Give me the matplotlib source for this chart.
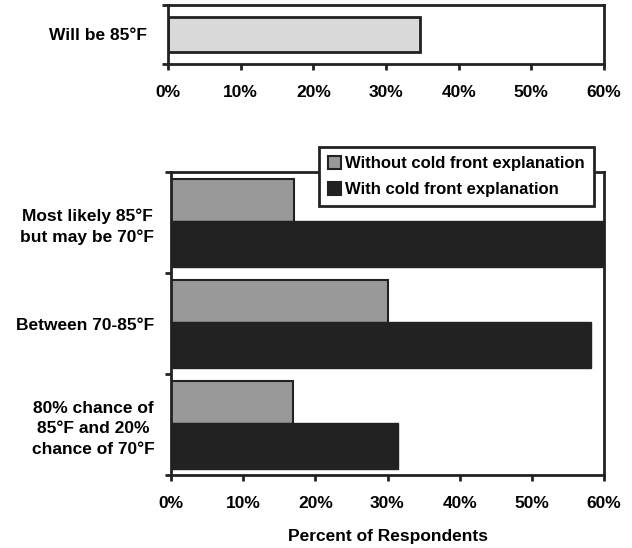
import numpy as np
import matplotlib
matplotlib.use("Agg")
import matplotlib.pyplot as plt
from matplotlib.patches import Patch

plt.rcParams["font.family"] = ["Liberation Sans", "DejaVu Sans"]
plt.rcParams["font.weight"] = "bold"
plt.rcParams["font.size"] = 12.5

# Data (percent of respondents)
top_label = "Will be 85°F"
top_value = 34.7

categories = [
    "Most likely 85°F\nbut may be 70°F",
    "Between 70-85°F",
    "80% chance of\n85°F and 20%\nchance of 70°F",
]
without_explanation = [17.0, 30.1, 16.9]
with_explanation = [60.0, 58.2, 31.5]

series_names = ["Without cold front explanation", "With cold front explanation"]
ticks_pct = [0, 10, 20, 30, 40, 50, 60]

c_light = "#d9d9d9"
c_gray = "#999999"
c_dark = "#222222"
spine_lw = 2.0

fig = plt.figure(figsize=(6.32, 5.48), dpi=100)
ax_top = fig.add_axes([168 / 632, 1 - 64 / 548, (604 - 168) / 632, (64 - 5) / 548])
ax = fig.add_axes([171 / 632, 1 - 475 / 548, (604 - 171) / 632, (475 - 172) / 548])


def style_axes(a):
    for s in a.spines.values():
        s.set_linewidth(spine_lw)
        s.set_color(c_dark)
    a.set_xlim(0, 60)
    a.set_xticks(ticks_pct)
    a.set_xticklabels([f"{t}%" for t in ticks_pct], fontweight="bold")
    a.tick_params(axis="x", direction="out", length=4.5, width=spine_lw,
                  color=c_dark, pad=10.5)
    a.tick_params(axis="y", which="major", direction="out", length=4.5,
                  width=spine_lw, color=c_dark, labelleft=False)
    a.tick_params(axis="y", which="minor", length=0)


# top panel: single bar
style_axes(ax_top)
ax_top.barh([0.5], [top_value], height=0.58, color=c_light,
            edgecolor=c_dark, linewidth=2)
ax_top.set_ylim(0, 1)
ax_top.set_yticks([0, 1])
ax_top.set_yticks([0.5], minor=True)
ax_top.set_yticklabels([top_label], minor=True, fontweight="bold")
ax_top.tick_params(axis="y", which="minor", pad=15)

# bottom panel: grouped bars
style_axes(ax)
y = np.arange(len(categories)) + 0.5
ax.barh(y - 0.22, without_explanation, height=0.43, color=c_gray,
        edgecolor=c_dark, linewidth=1.5, label=series_names[0])
ax.barh(y + 0.215, with_explanation, height=0.45, color=c_dark,
        edgecolor=c_dark, linewidth=1.0, label=series_names[1])
ax.set_ylim(len(categories), 0)
ax.set_yticks(np.arange(len(categories) + 1))
ax.set_yticks(y, minor=True)
ax.set_yticklabels(categories, minor=True, fontweight="bold",
                   multialignment="center", linespacing=1.45)
ax.tick_params(axis="y", which="minor", pad=12)
ax.set_xlabel("Percent of Respondents", fontweight="bold", labelpad=13)

handles = [Patch(facecolor=c_gray, edgecolor=c_dark, linewidth=1.5),
           Patch(facecolor=c_dark, edgecolor=c_dark, linewidth=1.5)]
leg = fig.legend(handles, series_names, loc="upper right",
                 bbox_to_anchor=(594 / 632, 1 - 147 / 548),
                 frameon=True, fancybox=False, framealpha=1,
                 handlelength=0.8, handleheight=0.8, handletextpad=0.25,
                 borderpad=0.55, labelspacing=0.65, borderaxespad=0,
                 prop={"weight": "bold", "size": 12})
leg.get_frame().set_edgecolor(c_dark)
leg.get_frame().set_linewidth(spine_lw)
leg.set_zorder(10)

fig.savefig("out.png", dpi=100)
